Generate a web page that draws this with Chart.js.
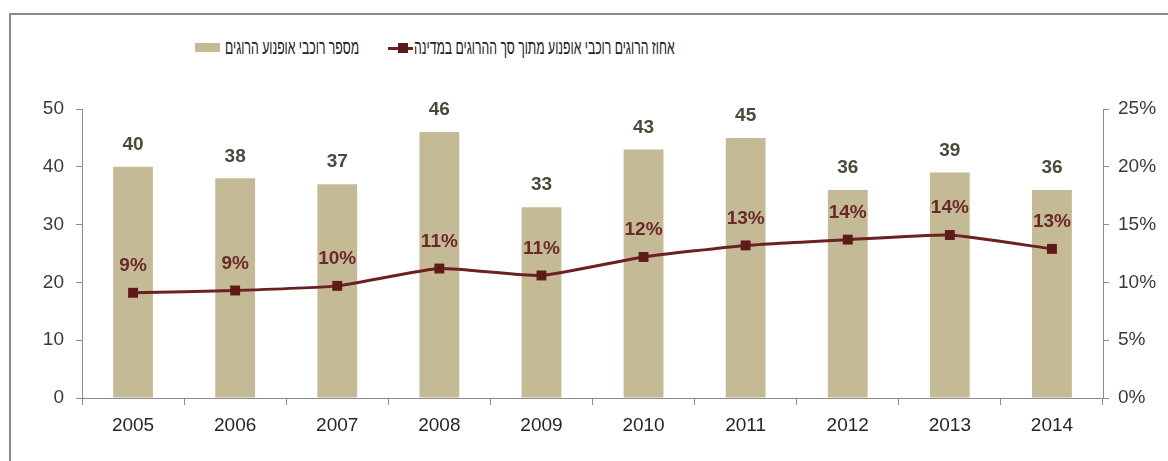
<!DOCTYPE html>
<html>
<head>
<meta charset="utf-8">
<script src="https://cdn.jsdelivr.net/npm/chart.js@4/dist/chart.umd.min.js"></script>
<style>
  html, body { margin: 0; padding: 0; background: #fff; }
  #wrap { position: relative; width: 1168px; height: 461px; overflow: hidden; }
  #frame { position: absolute; left: 9px; top: 13px; right: -10px; bottom: -10px;
           border-left: 2px solid #8a8a8a; border-top: 2px solid #8a8a8a; }
  .item { position: absolute; top: 36px; display: flex; align-items: center; direction: ltr;
          font-family: 'Liberation Sans', Arial, sans-serif; font-size: 20px; color: #222; white-space: nowrap; }
  .item span { display: inline-block; transform: scaleX(0.61); transform-origin: left center; }
  .swatch { width: 25px; height: 9px; margin-right: 5px; }
  .lineSym { position: relative; width: 25px; height: 10px; margin-right: 1px; }
  .lineSym::before { content: ''; position: absolute; left: 0; right: 0; top: 4px; height: 3px; background: #6b2121; }
  .lineSym::after { content: ''; position: absolute; left: 10px; top: 0px; width: 10px; height: 10px; background: #5e1a1a; }
  canvas { position: absolute; left: 0; top: 0; }
</style>
</head>
<body>
<div id="wrap">
  <div id="frame"></div>
  <div id="legend"></div>
  <canvas id="c" width="1168" height="461"></canvas>
</div>
<script>
const years     = ['2005','2006','2007','2008','2009','2010','2011','2012','2013','2014'];
const riders    = [40, 38, 37, 46, 33, 43, 45, 36, 39, 36];
const sharePct  = [9.1, 9.3, 9.7, 11.2, 10.6, 12.2, 13.2, 13.7, 14.1, 12.9];
const ridersLabel = 'מספר רוכבי אופנוע הרוגים';
const shareLabel  = 'אחוז הרוגים רוכבי אופנוע מתוך סך ההרוגים במדינה';

const BAR_COLOR  = '#c5ba96';
const LINE_COLOR = '#6b2121';
const AXIS_COLOR = '#8c8c8c';
const FONT = "'Liberation Sans', Arial, sans-serif";

// legend built from the dataset names (narrow text, swatch on the left)
document.getElementById('legend').innerHTML =
  `<div class="item" style="left:195px"><div class="swatch" style="background:${BAR_COLOR}"></div><span dir="rtl">${ridersLabel}</span></div>` +
  `<div class="item" style="left:388px"><div class="lineSym"></div><span dir="rtl">${shareLabel}</span></div>`;

// value labels above bars and line points
const valueLabels = {
  id: 'valueLabels',
  afterDatasetsDraw(chart) {
    const ctx = chart.ctx;
    ctx.save();
    ctx.textAlign = 'center';
    ctx.textBaseline = 'middle';
    ctx.font = 'bold 19px ' + FONT;
    chart.getDatasetMeta(0).data.forEach((el, i) => {
      ctx.fillStyle = '#4a4a3c';
      ctx.fillText(String(riders[i]), el.x, el.y - 22);
    });
    chart.getDatasetMeta(1).data.forEach((el, i) => {
      ctx.fillStyle = '#6a2a2a';
      ctx.fillText(Math.round(sharePct[i]) + '%', el.x, el.y - 27);
    });
    ctx.restore();
  }
};

new Chart(document.getElementById('c'), {
  type: 'bar',
  data: {
    labels: years,
    datasets: [{
      type: 'bar',
      label: ridersLabel,
      data: riders,
      backgroundColor: BAR_COLOR,
      barPercentage: 0.39,
      categoryPercentage: 1,
      yAxisID: 'y',
      order: 2
    }, {
      type: 'line',
      label: shareLabel,
      data: sharePct,
      borderColor: LINE_COLOR,
      borderWidth: 3,
      pointStyle: 'rect',
      pointRadius: 7,
      pointBackgroundColor: '#5e1a1a',
      pointBorderWidth: 0,
      tension: 0.15,
      yAxisID: 'y1',
      order: 1
    }]
  },
  options: {
    responsive: false,
    animation: false,
    devicePixelRatio: 1,
    layout: { padding: { top: 109, left: 0, right: 0, bottom: 0 } },
    plugins: { legend: { display: false }, tooltip: { enabled: false } },
    scales: {
      x: {
        afterFit: s => { s.height = 63; },
        grid: { display: true, drawOnChartArea: false, drawTicks: true, tickLength: 7, color: AXIS_COLOR, offset: true },
        border: { display: true, color: AXIS_COLOR, width: 1 },
        ticks: { color: '#262626', font: { family: FONT, size: 19 }, padding: 9 }
      },
      y: {
        position: 'left',
        min: 0, max: 50,
        afterFit: s => { s.width = 82; },
        ticks: { stepSize: 10, color: '#3a3a3a', font: { family: FONT, size: 19 }, padding: 12 },
        grid: { drawOnChartArea: false, drawTicks: true, tickLength: 6, color: AXIS_COLOR },
        border: { display: true, color: AXIS_COLOR, width: 1 }
      },
      y1: {
        position: 'right',
        min: 0, max: 25,
        afterFit: s => { s.width = 65; },
        ticks: { stepSize: 5, color: '#3a3a3a', font: { family: FONT, size: 19 }, padding: 9, callback: v => v + '%' },
        grid: { drawOnChartArea: false, drawTicks: true, tickLength: 6, color: AXIS_COLOR },
        border: { display: true, color: AXIS_COLOR, width: 1 }
      }
    }
  },
  plugins: [valueLabels]
});
</script>
</body>
</html>
